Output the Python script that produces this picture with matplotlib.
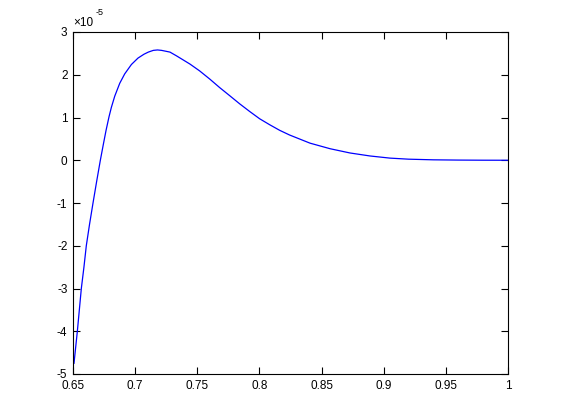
import matplotlib
matplotlib.use("Agg")
import matplotlib.pyplot as plt

# x values and y values (in units of 1e-5)
x_vals = [0.6508, 0.6535, 0.6567, 0.6588, 0.6607, 0.6633, 0.6661, 0.6690, 0.6720,
          0.6744, 0.6766, 0.6790, 0.6809, 0.6836, 0.6876, 0.6916, 0.6970, 0.7023,
          0.7071, 0.7106, 0.7146, 0.7180, 0.7213, 0.7280, 0.7334, 0.7441, 0.7519,
          0.7600, 0.7680, 0.7761, 0.7841, 0.7922, 0.8002, 0.8083, 0.8163, 0.8243,
          0.8407, 0.8568, 0.8729, 0.8890, 0.9050, 0.9200, 0.9400, 0.9600, 0.9800,
          1.0000]
y_vals = [-4.75, -4.0, -3.0, -2.5, -2.0, -1.5, -1.0, -0.5, 0.0,
          0.37, 0.70, 1.02, 1.24, 1.50, 1.80, 2.02, 2.24, 2.39,
          2.48, 2.53, 2.57, 2.58, 2.57, 2.53, 2.44, 2.25, 2.09,
          1.90, 1.70, 1.51, 1.32, 1.14, 0.97, 0.83, 0.70, 0.59,
          0.40, 0.27, 0.17, 0.10, 0.05, 0.025, 0.01, 0.004, 0.001,
          0.0]

x_ticks = [0.65, 0.7, 0.75, 0.8, 0.85, 0.9, 0.95, 1.0]
x_ticklabels = ["0.65", "0.7", "0.75", "0.8", "0.85", "0.9", "0.95", "1"]
y_ticks = [-5, -4, -3, -2, -1, 0, 1, 2, 3]
y_ticklabels = ["-5", "-4", "-3", "-2", "-1", "0", "1", "2", "3"]

plt.rcParams['font.family'] = ['Liberation Sans', 'DejaVu Sans']
fig = plt.figure(figsize=(5.61, 4.2), dpi=100)
W, H = 561, 420
ax = fig.add_axes([73 / W, 1 - 374 / H, (508 - 73) / W, (374 - 32) / H])
ax.plot(x_vals, y_vals, color='#0000ff', linewidth=0.9)
ax.set_xlim(0.65, 1.0)
ax.set_ylim(-5, 3)
ax.set_xticks(x_ticks)
ax.set_xticklabels(x_ticklabels)
ax.set_yticks(y_ticks)
ax.set_yticklabels(y_ticklabels)
ax.tick_params(direction='in', length=5, width=0.8, top=True, right=True,
               labelsize=8.5, pad=4)
for s in ax.spines.values():
    s.set_linewidth(0.8)
ax.text(0.0, 1.01, "\u00d710", transform=ax.transAxes, fontsize=8.5,
        ha='left', va='bottom')
ax.text(0.052, 1.045, "-5", transform=ax.transAxes, fontsize=6.5,
        ha='left', va='bottom')
fig.savefig("out.png", dpi=100)
